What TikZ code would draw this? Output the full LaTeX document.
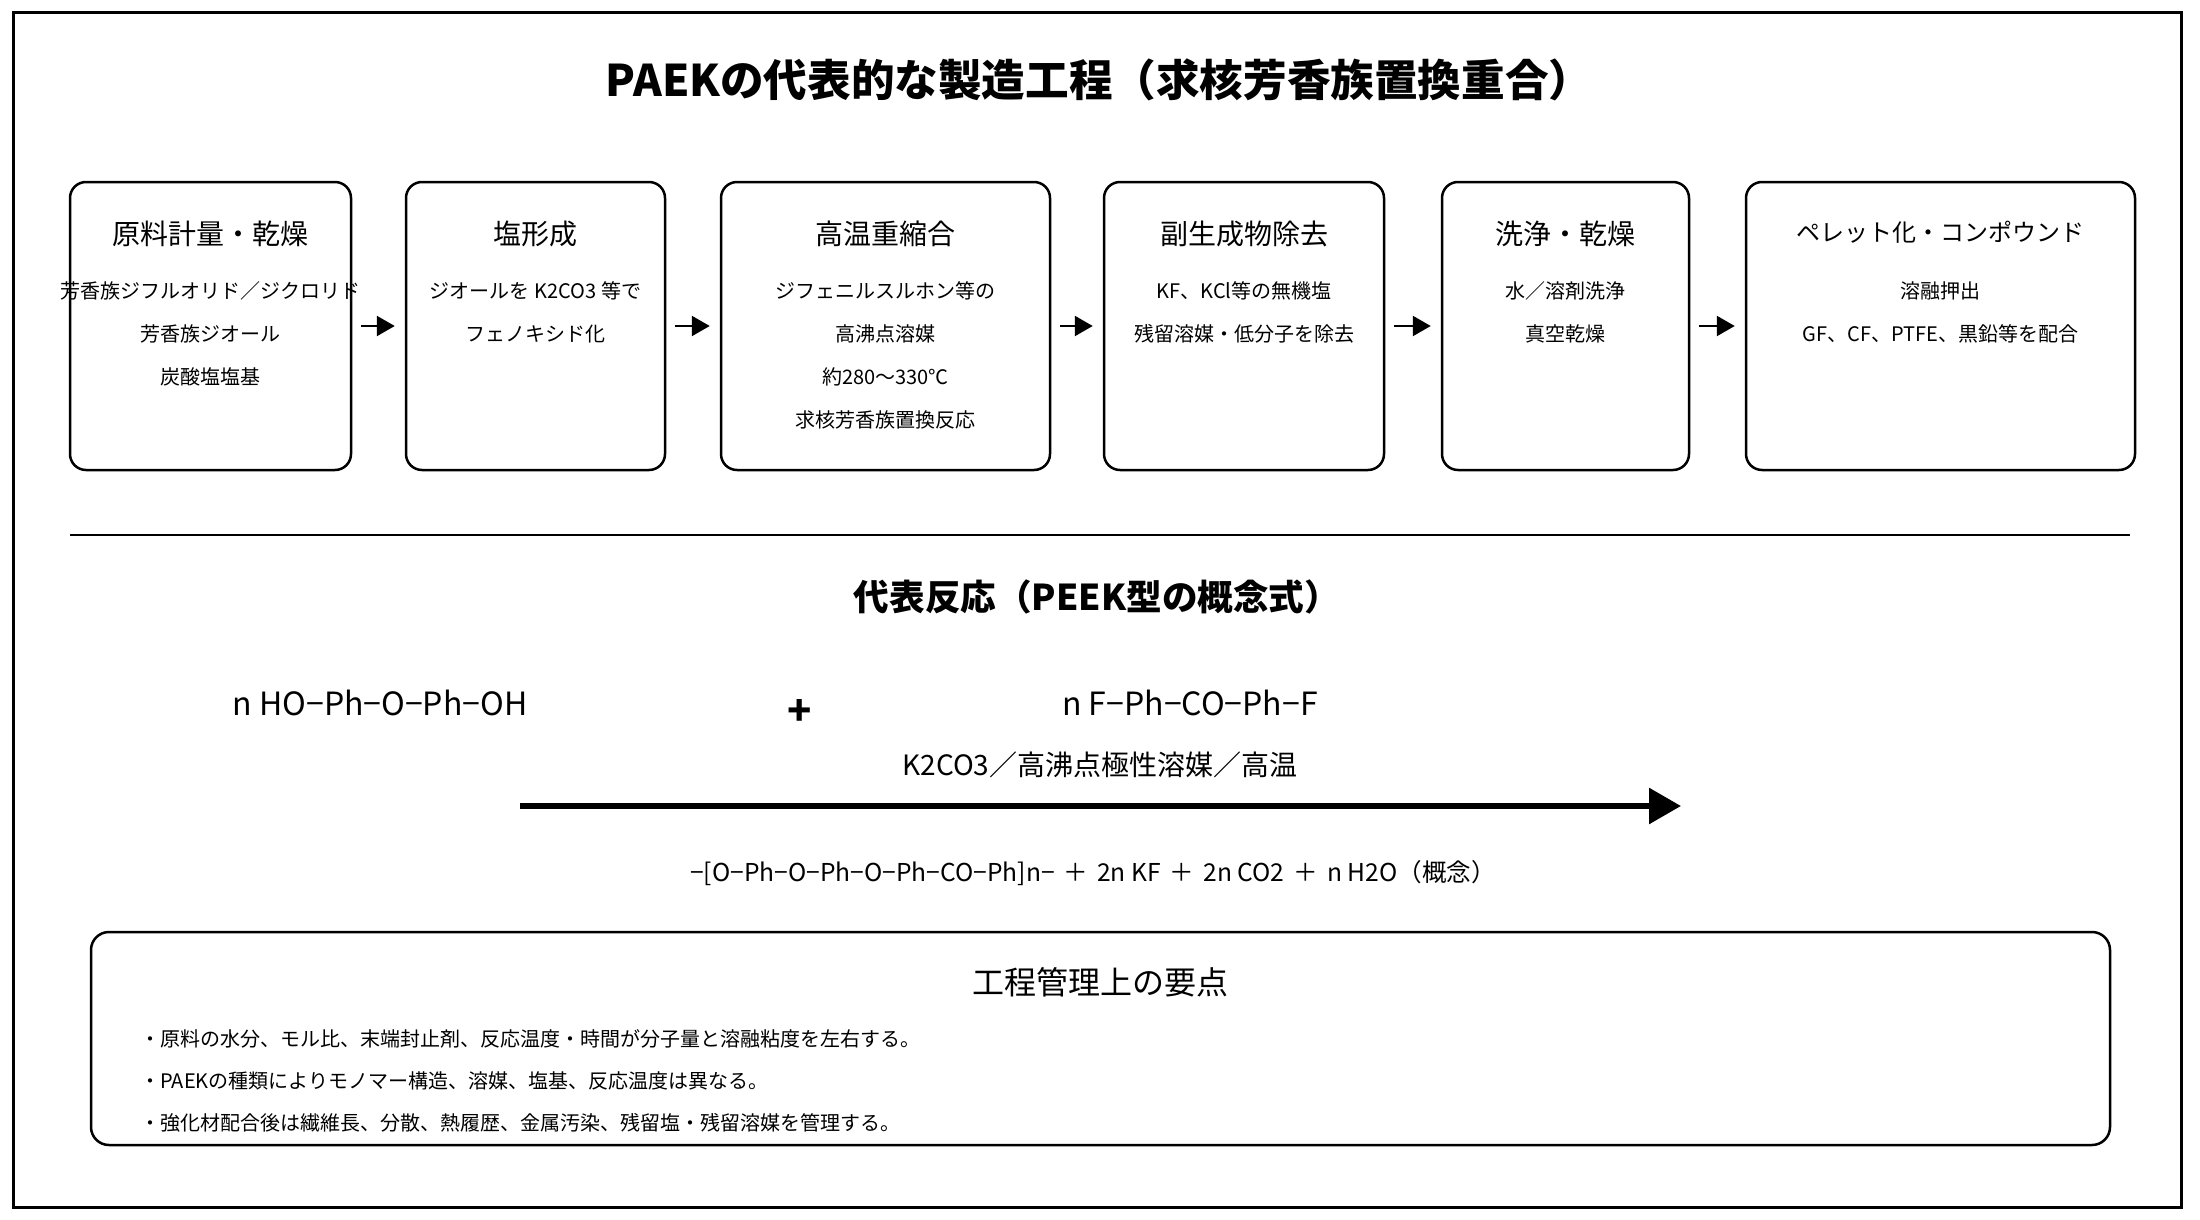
\documentclass[tikz,border=0pt]{standalone}
\usepackage{fontspec}
\setmainfont{Noto Sans CJK JP}
\usetikzlibrary{arrows.meta,calc}
\tikzset{
  stepbox/.style={draw,line width=1.25pt,rounded corners=8pt,minimum height=144pt,inner sep=0pt},
  steptitle/.style={font=\fontsize{14}{16}\selectfont,inner sep=0pt},
  steptext/.style={font=\fontsize{10}{12}\selectfont,inner sep=0pt},
  flowarrow/.style={line width=1.25pt,-{Triangle[length=9pt,width=10pt]},shorten <=4.5pt,shorten >=5pt},
  maintitle/.style={font=\bfseries\fontsize{21.8}{24}\selectfont,inner sep=0pt},
  subtitle/.style={font=\bfseries\fontsize{17.8}{20}\selectfont,inner sep=0pt},
  formula/.style={font=\fontsize{16}{18}\selectfont,inner sep=0pt},
  condition/.style={font=\fontsize{14}{16}\selectfont,inner sep=0pt},
  product/.style={font=\fontsize{12.3}{15}\selectfont,inner sep=0pt},
  notetext/.style={font=\fontsize{10}{12}\selectfont,inner sep=0pt,anchor=west},
}
\newcommand{\pluspad}{\hspace{4.5pt}＋\hspace{4.5pt}}
\begin{document}
\begin{tikzpicture}[x=0.5pt,y=-0.5pt]
\useasboundingbox (0,0) rectangle (2200,1220);
\draw[line width=1.5pt] (13,13) rectangle (2181,1207);

\node[maintitle] (title) at (1099,80) {PAEKの代表的な製造工程（求核芳香族置換重合）};

% process boxes
\node[stepbox,minimum width=140.5pt] (b1) at (210.5,326) {};
\node[stepbox,minimum width=129.5pt] (b2) at (535.5,326) {};
\node[stepbox,minimum width=164.5pt] (b3) at (885.5,326) {};
\node[stepbox,minimum width=140pt] (b4) at (1244,326) {};
\node[stepbox,minimum width=123.5pt] (b5) at (1565.5,326) {};
\node[stepbox,minimum width=194.5pt] (b6) at (1940.5,326) {};

\node[steptitle] (t1) at (210.5,234) {原料計量・乾燥};
\node[steptext] (t1a) at (210.5,291) {芳香族ジフルオリド／ジクロリド};
\node[steptext] (t1b) at (210.5,334) {芳香族ジオール};
\node[steptext] (t1c) at (210.5,377) {炭酸塩塩基};

\node[steptitle] (t2) at (535.5,234) {塩形成};
\node[steptext] (t2a) at (535.5,291) {ジオールを K2CO3 等で};
\node[steptext] (t2b) at (535.5,334) {フェノキシド化};

\node[steptitle] (t3) at (885.5,234) {高温重縮合};
\node[steptext] (t3a) at (885.5,291) {ジフェニルスルホン等の};
\node[steptext] (t3b) at (885.5,334) {高沸点溶媒};
\node[steptext] (t3c) at (885.5,377) {約280〜330℃};
\node[steptext] (t3d) at (885.5,420) {求核芳香族置換反応};

\node[steptitle] (t4) at (1244,234) {副生成物除去};
\node[steptext] (t4a) at (1244,291) {KF、KCl等の無機塩};
\node[steptext] (t4b) at (1244,334) {残留溶媒・低分子を除去};

\node[steptitle] (t5) at (1565.5,234) {洗浄・乾燥};
\node[steptext] (t5a) at (1565.5,291) {水／溶剤洗浄};
\node[steptext] (t5b) at (1565.5,334) {真空乾燥};

\node[steptitle,font=\fontsize{12}{14}\selectfont] (t6) at (1940.5,232) {ペレット化・コンポウンド};
\node[steptext] (t6a) at (1940.5,291) {溶融押出};
\node[steptext] (t6b) at (1940.5,334) {GF、CF、PTFE、黒鉛等を配合};

\draw[flowarrow] (b1.east) -- (b2.west);
\draw[flowarrow] (b2.east) -- (b3.west);
\draw[flowarrow] (b3.east) -- (b4.west);
\draw[flowarrow] (b4.east) -- (b5.west);
\draw[flowarrow] (b5.east) -- (b6.west);

% separator
\coordinate (sepL) at (70,535);
\coordinate (sepR) at (2130,535);
\draw[line width=1.25pt] (sepL) -- (sepR);

\node[subtitle] (sub) at (1097,597) {代表反応（PEEK型の概念式）};

\node[formula] (r1) at (380,703) {n HO−Ph−O−Ph−OH};
\node[font=\bfseries\fontsize{20}{22}\selectfont,inner sep=0pt] (plus) at (800,712) {+};
\node[formula] (r2) at (1190,703) {n F−Ph−CO−Ph−F};
\node[condition] (cond) at (1100,765) {K2CO3／高沸点極性溶媒／高温};

\coordinate (rxA) at (520,806);
\coordinate (rxB) at (1681,806);
\draw[line width=3pt,-{Triangle[length=16pt,width=17.5pt]}] (rxA) -- (rxB);

\node[product] (prod) at (1093,873) {−[O−Ph−O−Ph−O−Ph−CO−Ph]n−\pluspad 2n KF\pluspad 2n CO2\pluspad n H2O（概念）};

% notes box
\node[draw,line width=1.25pt,rounded corners=9pt,minimum width=1009.5pt,minimum height=106.5pt,inner sep=0pt] (notes) at (1100.5,1038.5) {};
\node[font=\fontsize{16}{18}\selectfont,inner sep=0pt] (notetitle) at (1100,982) {工程管理上の要点};
\node[notetext] (n1) at (140,1039) {・原料の水分、モル比、末端封止剤、反応温度・時間が分子量と溶融粘度を左右する。};
\node[notetext] (n2) at (140,1081) {・PAEKの種類によりモノマー構造、溶媒、塩基、反応温度は異なる。};
\node[notetext] (n3) at (140,1123) {・強化材配合後は繊維長、分散、熱履歴、金属汚染、残留塩・残留溶媒を管理する。};
\end{tikzpicture}
\end{document}
